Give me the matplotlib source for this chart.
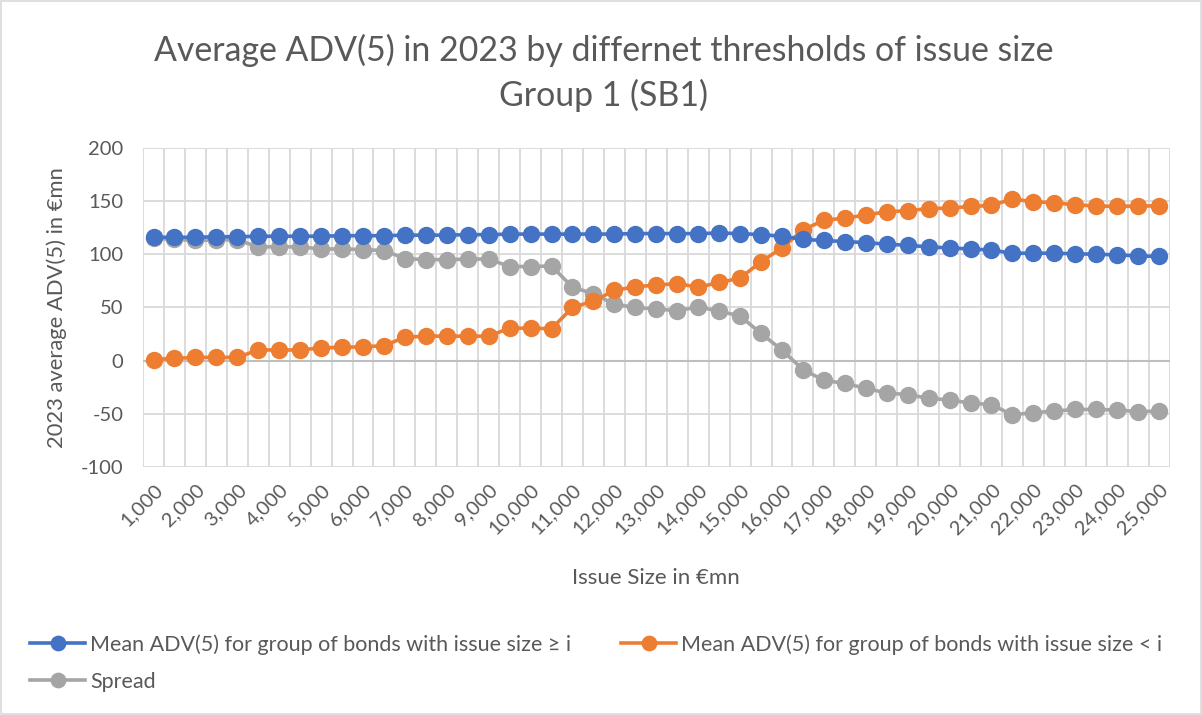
import matplotlib
matplotlib.use("Agg")
import matplotlib.pyplot as plt
from matplotlib.patches import Rectangle

# issue size thresholds (EUR mn)
thresholds = [1000, 1500, 2000, 2500, 3000, 3500, 4000, 4500, 5000, 5500,
              6000, 6500, 7000, 7500, 8000, 8500, 9000, 9500, 10000, 10500,
              11000, 11500, 12000, 12500, 13000, 13500, 14000, 14500, 15000, 15500,
              16000, 16500, 17000, 17500, 18000, 18500, 19000, 19500, 20000, 20500,
              21000, 21500, 22000, 22500, 23000, 23500, 24000, 24500, 25000]

mean_ge = [116, 116, 116, 116.5, 116.5, 117, 117, 117, 117, 117.5,
           117.5, 117.5, 118, 118, 118, 118.5, 118.5, 119, 119, 119,
           119, 119, 119, 119.5, 119.5, 119.5, 119.5, 120, 119.5, 118.5,
           117, 114, 113, 112, 111, 109.5, 108.5, 107, 106, 105,
           104, 101, 101, 101, 100.5, 100, 99.5, 98.5, 98]

mean_lt = [1, 2, 3, 3, 3, 10, 10, 10, 12, 12.5,
           13, 14, 22, 23, 23, 23, 23, 30.5, 30.5, 30,
           50, 56, 66, 69.5, 71, 72.5, 69, 73.5, 77.5, 93,
           106, 123, 132, 134, 137, 140, 141, 143, 143.5, 145,
           146, 152, 149.5, 148.5, 146.5, 145.5, 145, 145.5, 145.5]

spread = [115, 114, 113, 113.5, 113.5, 107, 107, 107, 105, 105,
          104.5, 103.5, 96, 95, 95, 95.5, 95.5, 88.5, 88.5, 89,
          69, 63, 53, 50, 48.5, 47, 50.5, 46.5, 42, 25.5,
          10, -8.5, -18.5, -21.5, -26, -30.5, -32, -35.5, -37, -40,
          -41.5, -51, -49, -47.5, -46, -46, -46.5, -48, -47.5]

plt.rcParams['font.family'] = ['Lato', 'DejaVu Sans']
plt.rcParams['axes.unicode_minus'] = False
txt = '#595959'
grid = '#D9D9D9'

fig = plt.figure(figsize=(12.02, 7.15), dpi=100)
ax = fig.add_axes([0.119, 0.347, 0.854, 0.446])

x = list(range(len(thresholds)))
l1, = ax.plot(x, mean_ge, color='#4472C4', lw=2.6, marker='o', ms=11.5, zorder=5,
              label='Mean ADV(5) for group of bonds with issue size ≥ i')
l2, = ax.plot(x, mean_lt, color='#ED7D31', lw=2.6, marker='o', ms=11.5, zorder=4,
              label='Mean ADV(5) for group of bonds with issue size < i')
l3, = ax.plot(x, spread, color='#A5A5A5', lw=2.6, marker='o', ms=11.5, zorder=3,
              label='Spread')

ax.set_xlim(-0.5, len(x) - 0.5)
ax.set_ylim(-100, 200)
ax.set_yticks(range(-100, 201, 50))

# category gridlines sit between the points, like Excel
for b in range(len(x) + 1):
    ax.axvline(b - 0.5, color=grid, lw=1.3, zorder=1)
for yv in range(-100, 201, 50):
    ax.axhline(yv, color=grid, lw=1.3, zorder=1)
ax.axhline(0, color='#BFBFBF', lw=1.5, zorder=2)

ax.set_xticks(x[::2])
ax.set_xticklabels([f"{t:,}" for t in thresholds[::2]], rotation=45,
                   ha='right', va='top', rotation_mode='anchor')
ax.tick_params(axis='x', length=0, labelsize=14.5, colors=txt, pad=10)
ax.tick_params(axis='y', length=0, labelsize=14.5, colors=txt, pad=14)
for s in ax.spines.values():
    s.set_visible(False)

ax.set_xlabel('Issue Size in €mn', fontsize=16, color=txt, labelpad=22)
ax.set_ylabel('2023 average ADV(5) in €mn', fontsize=15.8, color=txt, labelpad=10)

fig.text(0.502, 0.93, 'Average ADV(5) in 2023 by differnet thresholds of issue size',
         ha='center', va='center', fontsize=24.4, color=txt)
fig.text(0.502, 0.866, 'Group 1 (SB1)', ha='center', va='center', fontsize=24.4, color=txt)

fig.legend([l1, l3, l2], [l1.get_label(), l3.get_label(), l2.get_label()],
           ncol=2, loc='upper left', bbox_to_anchor=(0.009, 0.14),
           frameon=False, fontsize=15.5, labelcolor=txt, handlelength=2.55,
           handletextpad=0.25, columnspacing=2.3, labelspacing=0.78, markerscale=0.9)

fig.patches.append(Rectangle((0.001, 0.001), 0.998, 0.998, transform=fig.transFigure,
                             fill=False, edgecolor=grid, lw=1.2))

fig.savefig('out.png', dpi=100)
